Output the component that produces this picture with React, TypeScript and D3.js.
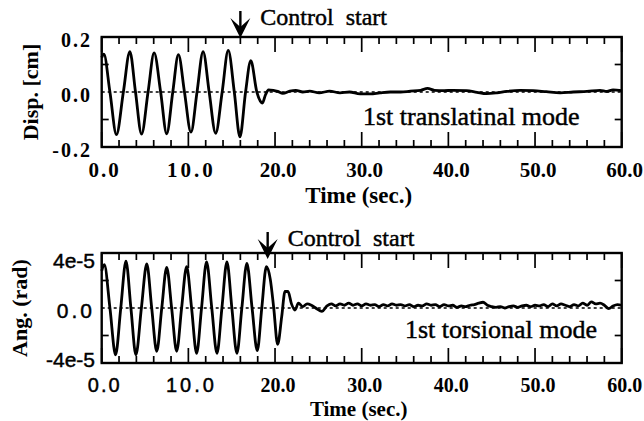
import * as d3 from "d3";

const SERIF = "'Liberation Serif', 'Times New Roman', serif";
const SANS = "'Liberation Sans', Arial, sans-serif";

const TIME_DOMAIN = [0, 60];
const X_LABELS = ["0.0", "10.0", "20.0", "30.0", "40.0", "50.0", "60.0"];
const DISP_LABELS = ["-0.2", "0.0", "0.2"];
const ANG_LABELS = ["-4e-5", "0.0", "4e-5"];
const CONTROL_START = [16.0, 19.15]; // sec, arrow positions

// 1st translational mode, displacement [cm]: [time, value]
const dispFree: [number, number][] = [
  [0, 0.125], [0.25, 0.138], [0.95, 0], [1.7, -0.155], [2.5, 0], [3.25, 0.147],
  [3.9, 0], [4.6, -0.153], [5.35, 0], [6.05, 0.142], [6.8, 0], [7.5, -0.152],
  [8.2, 0], [8.85, 0.136], [9.55, 0], [10.3, -0.146], [11.0, 0], [11.7, 0.147],
  [12.4, 0], [13.15, -0.15], [13.9, 0], [14.6, 0.151], [15.3, 0], [15.95, -0.163],
  [16.6, 0], [17.2, 0.114], [17.9, 0], [18.55, -0.04], [18.9, -0.01], [19.25, 0.008],
];
const dispControlled: [number, number][] = [
  [19.8, 0.006], [20.3, 0.002], [20.9, -0.005], [21.7, 0.003], [22.4, 0.006],
  [23.2, 0.0], [24.0, 0.003], [25.1, -0.003], [26.3, 0.003], [27.5, -0.003],
  [28.6, 0.0], [29.8, -0.007], [31.0, -0.007], [32.1, -0.003], [33.3, 0.0],
  [34.5, 0.0], [35.6, 0.003], [36.8, 0.006], [37.6, 0.013], [38.4, 0.006],
  [39.5, 0.005], [40.5, 0.006], [42.1, 0.005], [43.3, -0.001], [44.4, -0.006],
  [45.6, -0.003], [46.7, 0.002], [48.3, 0.006], [49.8, 0.005], [51.3, 0.001],
  [52.9, -0.003], [54.4, 0.0], [56.0, 0.002], [57.5, 0.006], [58.3, 0.002],
  [59.0, 0.008], [60.0, 0.005],
];

// 1st torsional mode, angle [rad] (values in 1e-5): [time, value]
const angFree: [number, number][] = [
  [0, 2.7], [0.3, 3.15], [0.95, 0], [1.6, -3.4], [2.2, 0], [2.8, 3.4],
  [3.37, 0], [3.95, -3.4], [4.58, 0], [5.2, 3.2], [5.77, 0], [6.35, -3.15],
  [6.93, 0], [7.5, 2.95], [8.07, 0], [8.65, -3.15], [9.22, 0], [9.8, 3.0],
  [10.37, 0], [10.95, -3.3], [11.52, 0], [12.1, 3.35], [12.7, 0], [13.3, -3.3],
  [13.87, 0], [14.45, 3.35], [15.02, 0], [15.6, -3.3], [16.17, 0], [16.75, 3.25],
  [17.35, 0], [17.95, -3.1], [18.47, 0], [19.0, 3.0], [19.45, 2.1], [19.85, 0],
  [20.3, -2.65], [20.77, -0.63], [21.15, 1.2], [21.5, 1.2], [21.9, 0.3],
  [22.3, -0.15],
];
const angControlled: [number, number][] = [
  [22.7, 0.35], [23.2, 0.1], [23.7, 0.3], [24.2, 0.2], [24.8, -0.05], [25.4, -0.25],
  [26.0, 0.15], [26.5, 0.3], [27.0, 0.15], [27.5, 0.3], [28.0, 0.2], [28.5, 0.35],
  [29.0, 0.2], [29.5, 0.3], [30.0, 0.15], [30.5, 0.3], [31.0, 0.2], [31.5, 0.25],
  [32.0, 0.1], [32.5, 0.25], [33.0, 0.15], [33.5, 0.3], [34.0, 0.2], [34.5, 0.25],
  [35.0, 0.15], [35.5, 0.25], [36.0, 0.1], [36.5, 0.2], [37.0, 0.15], [37.5, 0.3],
  [38.0, 0.2], [38.5, 0.25], [39.0, 0.1], [39.5, 0.25], [40.0, 0.15], [40.5, 0.2],
  [41.0, 0.05], [41.5, 0.15], [42.0, 0.1], [42.5, 0.2], [43.0, 0.25], [43.5, 0.35],
  [44.0, 0.42], [44.5, 0.2], [45.0, 0.1], [45.5, 0.05], [46.0, 0.1], [46.5, 0.0],
  [47.0, 0.1], [47.5, 0.15], [48.0, 0.05], [48.5, 0.15], [49.0, 0.2], [49.5, 0.1],
  [50.0, 0.2], [50.5, 0.15], [51.0, 0.25], [51.5, 0.1], [52.0, 0.3], [52.5, 0.15],
  [53.0, 0.3], [53.5, 0.2], [54.0, 0.1], [54.5, 0.25], [55.0, 0.15], [55.5, 0.35],
  [56.0, 0.2], [56.5, 0.45], [57.0, 0.3], [57.5, 0.35], [58.0, 0.2], [58.5, -0.05],
  [59.0, 0.15], [59.5, 0.25], [60.0, 0.2],
];

const X0 = 101.7;
const X1 = 621.7;
const INK = { stroke: "#000", strokeWidth: 0.45 };

type PanelProps = {
  top: number;
  bottom: number;
  domain: [number, number];
  data: [number, number][];
  scale: number;
  yLabels: string[];
  yLabelDy: number[];
  yLabelX: number;
  yLabelFont: string;
  title: string;
  titleX: number;
  mode: string;
  modeX: number;
  modeY: number;
  arrowT: number;
  arrowTip: number;
  xLabelY: number;
  xLabelSize: number;
  timeY: number;
  timeSize: number;
  sansXLabels: number;
};

function Panel(p: PanelProps) {
  const x = d3.scaleLinear().domain(TIME_DOMAIN).range([X0, X1]);
  const y = d3.scaleLinear().domain(p.domain).range([p.bottom, p.top]);
  const line = d3
    .line<[number, number]>()
    .x((d) => x(d[0]))
    .y((d) => y(d[1] * p.scale))
    .curve(d3.curveMonotoneX);

  const minor = x.ticks(30);
  const major = x.ticks(6);
  const yMinor = y.ticks(4).filter((v) => v !== 0 && v !== p.domain[0] && v !== p.domain[1]);
  const yVals = [p.domain[0], 0, p.domain[1]];
  const ax = x(p.arrowT);
  const tip = p.arrowTip;
  const midY = (p.top + p.bottom) / 2;
  const sansY = p.yLabelFont === "sans";

  return (
    <g>
      {/* zero line */}
      <line x1={X0} x2={X1} y1={y(0)} y2={y(0)} stroke="#000" strokeWidth={1.4} strokeDasharray="3,3" />
      <path d={line(p.data) ?? ""} fill="none" stroke="#000" strokeWidth={2.8} strokeLinejoin="round" />
      {/* frame */}
      <rect x={X0} y={p.top} width={X1 - X0} height={p.bottom - p.top} fill="none" stroke="#000" strokeWidth={2.4} />
      {minor.map((t) => {
        const len = t % 10 === 0 ? 15 : 7;
        return (
          <g key={t}>
            <line x1={x(t)} x2={x(t)} y1={p.top} y2={p.top + len} stroke="#000" strokeWidth={1.7} />
            <line x1={x(t)} x2={x(t)} y1={p.bottom} y2={p.bottom - len} stroke="#000" strokeWidth={1.7} />
          </g>
        );
      })}
      {yMinor.map((v) => (
        <g key={v}>
          <line x1={X0} x2={X0 + 7} y1={y(v)} y2={y(v)} stroke="#000" strokeWidth={1.7} />
          <line x1={X1} x2={X1 - 7} y1={y(v)} y2={y(v)} stroke="#000" strokeWidth={1.7} />
        </g>
      ))}
      {/* x labels */}
      {major.map((t, i) => {
        const sans = i < p.sansXLabels;
        return (
          <text
            key={t}
            x={x(t) + 3}
            y={p.xLabelY}
            textAnchor="middle"
            fontFamily={sans ? SANS : SERIF}
            fontWeight={sans ? "normal" : "bold"}
            fontSize={sans ? 20 : p.xLabelSize}
            letterSpacing={i === 0 ? 2 : i === 1 ? 3 : 0}
            {...(sans ? INK : {})}
          >
            {X_LABELS[i]}
          </text>
        );
      })}
      {/* y labels */}
      {yVals.map((v, i) => (
        <text
          key={i}
          x={p.yLabelX}
          y={y(v) + p.yLabelDy[i]}
          textAnchor="end"
          fontFamily={sansY ? SANS : SERIF}
          fontWeight={sansY ? "normal" : "bold"}
          fontSize={sansY ? 21 : 20}
          letterSpacing={sansY ? (i === 1 ? 3 : 0) : 2}
          {...(sansY ? INK : {})}
        >
          {p.yLabels[i]}
        </text>
      ))}
      {/* axis titles */}
      <text
        transform={`translate(${p.titleX},${midY}) rotate(-90)`}
        textAnchor="middle"
        fontFamily={SERIF}
        fontWeight="bold"
        fontSize={22}
      >
        {p.title}
      </text>
      <text x={(X0 + X1) / 2 - 3} y={p.timeY} textAnchor="middle" fontFamily={SERIF} fontWeight="bold" fontSize={p.timeSize}>
        Time (sec.)
      </text>
      {/* control start arrow */}
      <line x1={ax} x2={ax} y1={tip - 27} y2={tip - 10} stroke="#000" strokeWidth={2.4} />
      <path d={`M${ax},${tip} L${ax - 10},${tip - 20} L${ax},${tip - 11} L${ax + 10},${tip - 20} Z`} fill="#000" />
      <text x={ax + 20} y={tip - 13} fontFamily={SERIF} fontSize={24} style={{ whiteSpace: "pre" }} {...INK}>
        {"Control  start"}
      </text>
      <text x={p.modeX} y={p.modeY} fontFamily={SERIF} fontSize={26} {...INK}>
        {p.mode}
      </text>
    </g>
  );
}

export default function App() {
  return (
    <svg
      width={644}
      height={421}
      viewBox="0 0 644 421"
      style={{ position: "absolute", left: 0, top: 0, background: "#fff" }}
    >
      <Panel
        top={37}
        bottom={147}
        domain={[-0.2, 0.2]}
        data={[...dispFree, ...dispControlled]}
        scale={1}
        yLabels={DISP_LABELS}
        yLabelDy={[10, 10, 10]}
        yLabelX={92}
        yLabelFont="serif"
        title="Disp. [cm]"
        titleX={38}
        mode="1st translatinal mode"
        modeX={363}
        modeY={125}
        arrowT={CONTROL_START[0]}
        arrowTip={38}
        xLabelY={177}
        xLabelSize={21}
        timeY={203}
        timeSize={23}
        sansXLabels={0}
      />
      <Panel
        top={253}
        bottom={363}
        domain={[-4e-5, 4e-5]}
        data={[...angFree, ...angControlled]}
        scale={1e-5}
        yLabels={ANG_LABELS}
        yLabelDy={[4, 10, 15]}
        yLabelX={95}
        yLabelFont="sans"
        title="Ang. (rad)"
        titleX={27}
        mode="1st torsional mode"
        modeX={405}
        modeY={338}
        arrowT={CONTROL_START[1]}
        arrowTip={259}
        xLabelY={392}
        xLabelSize={20}
        timeY={416}
        timeSize={21}
        sansXLabels={2}
      />
    </svg>
  );
}
